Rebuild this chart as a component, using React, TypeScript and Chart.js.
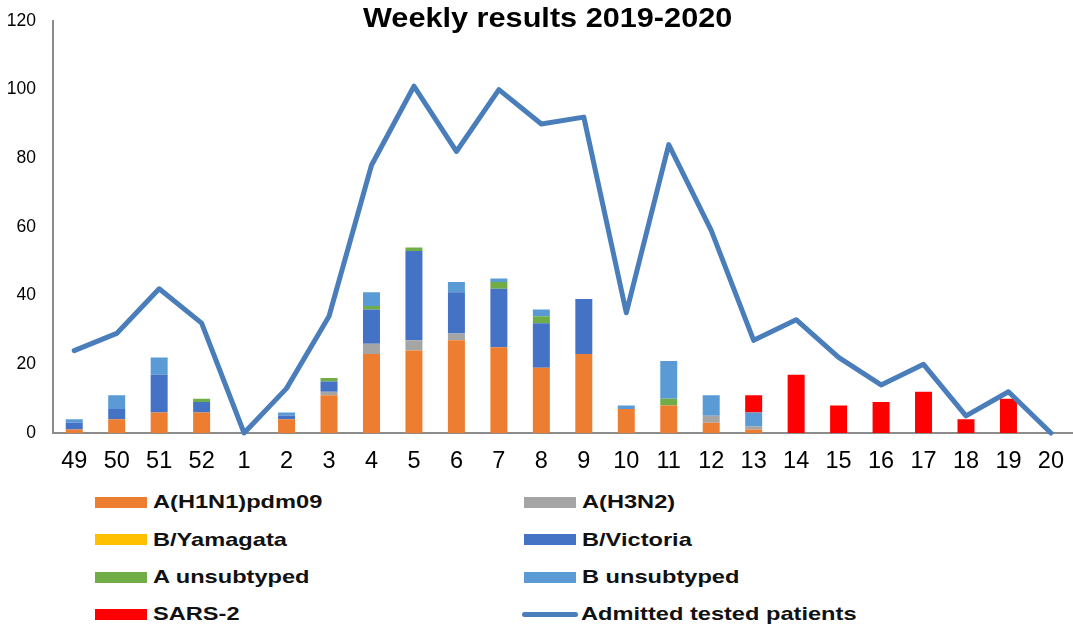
import React, { useEffect, useRef } from "react";
import { Chart, registerables } from "chart.js";

Chart.register(...registerables);

const weeks = ["49", "50", "51", "52", "1", "2", "3", "4", "5", "6", "7", "8", "9", "10", "11", "12", "13", "14", "15", "16", "17", "18", "19", "20"];
const h1n1 = [1, 4, 6, 6, 0, 4, 11, 23, 24, 27, 25, 19, 23, 7, 8, 3, 1, 0, 0, 0, 0, 0, 0, 0];
const h3n2 = [0, 0, 0, 0, 0, 0, 1, 3, 3, 2, 0, 0, 0, 0, 0, 2, 1, 0, 0, 0, 0, 0, 0, 0];
const yamagata = [0, 0, 0, 0, 0, 0, 0, 0, 0, 0, 0, 0, 0, 0, 0, 0, 0, 0, 0, 0, 0, 0, 0, 0];
const victoria = [2, 3, 11, 3, 0, 1, 3, 10, 26, 12, 17, 13, 16, 0, 0, 0, 0, 0, 0, 0, 0, 0, 0, 0];
const aUnsubtyped = [0, 0, 0, 1, 0, 0, 1, 1, 1, 0, 2, 2, 0, 0, 2, 0, 0, 0, 0, 0, 0, 0, 0, 0];
const bUnsubtyped = [1, 4, 5, 0, 0, 1, 0, 4, 0, 3, 1, 2, 0, 1, 11, 6, 4, 0, 0, 0, 0, 0, 0, 0];
const sars2 = [0, 0, 0, 0, 0, 0, 0, 0, 0, 0, 0, 0, 0, 0, 0, 0, 5, 17, 8, 9, 12, 4, 10, 0];
const admitted = [24, 29, 42, 32, 0, 13, 34, 78, 101, 82, 100, 90, 92, 35, 84, 59, 27, 33, 22, 14, 20, 5, 12, 0];

const yTicks = { min: 0, max: 120, step: 20 };
const titleText = "Weekly results 2019-2020";

const COLORS = {
  h1n1: "#ED7D31",
  h3n2: "#A5A5A5",
  yamagata: "#FFC000",
  victoria: "#4472C4",
  aUnsub: "#70AD47",
  bUnsub: "#5B9BD5",
  sars2: "#FF0000",
  line: "#4A7EBB",
};

const FONT = 'Arial, "Liberation Sans", sans-serif';

const legendLeft = [
  { label: "A(H1N1)pdm09", color: COLORS.h1n1, line: false },
  { label: "B/Yamagata", color: COLORS.yamagata, line: false },
  { label: "A unsubtyped", color: COLORS.aUnsub, line: false },
  { label: "SARS-2", color: COLORS.sars2, line: false },
];
const legendRight = [
  { label: "A(H3N2)", color: COLORS.h3n2, line: false },
  { label: "B/Victoria", color: COLORS.victoria, line: false },
  { label: "B unsubtyped", color: COLORS.bUnsub, line: false },
  { label: "Admitted tested patients", color: COLORS.line, line: true },
];

function LegendItem({ item, left, top }: { item: any; left: number; top: number }) {
  return (
    <div style={{ position: "absolute", left, top, height: 20, display: "flex", alignItems: "center" }}>
      {item.line ? (
        <div style={{ width: 56, height: 5, borderRadius: 3, background: item.color, marginLeft: -2, marginRight: 3 }} />
      ) : (
        <div style={{ width: 52, height: 11, background: item.color, marginRight: 6 }} />
      )}
      <span
        style={{
          fontFamily: FONT,
          fontWeight: "bold",
          fontSize: 18.6,
          lineHeight: "20px",
          color: "#111",
          whiteSpace: "nowrap",
          display: "inline-block",
          transform: "scaleX(1.27)",
          transformOrigin: "left center",
        }}
      >
        {item.label}
      </span>
    </div>
  );
}

export default function App() {
  const canvasRef = useRef<HTMLCanvasElement | null>(null);

  useEffect(() => {
    const canvas = canvasRef.current;
    if (!canvas) return;
    const barDs = (label: string, data: number[], color: string) => ({
      type: "bar" as const,
      label,
      data,
      backgroundColor: color,
      borderWidth: 0,
      stack: "flu",
      order: 1,
      categoryPercentage: 1,
      barPercentage: 0.4,
    });
    const chart = new Chart(canvas, {
      type: "bar",
      data: {
        labels: weeks,
        datasets: [
          barDs("A(H1N1)pdm09", h1n1, COLORS.h1n1),
          barDs("A(H3N2)", h3n2, COLORS.h3n2),
          barDs("B/Yamagata", yamagata, COLORS.yamagata),
          barDs("B/Victoria", victoria, COLORS.victoria),
          barDs("A unsubtyped", aUnsubtyped, COLORS.aUnsub),
          barDs("B unsubtyped", bUnsubtyped, COLORS.bUnsub),
          barDs("SARS-2", sars2, COLORS.sars2),
          {
            type: "line" as const,
            label: "Admitted tested patients",
            data: admitted,
            borderColor: COLORS.line,
            backgroundColor: COLORS.line,
            borderWidth: 5,
            pointRadius: 0,
            tension: 0,
            borderJoinStyle: "round",
            borderCapStyle: "round",
            stack: "line",
            order: 0,
            clip: 8,
          } as any,
        ],
      },
      options: {
        responsive: false,
        animation: false,
        devicePixelRatio: 1,
        layout: { padding: { top: 21, right: 0, bottom: 0, left: 0 } },
        plugins: {
          legend: { display: false },
          title: { display: false },
          tooltip: { enabled: false },
        },
        scales: {
          x: {
            stacked: true,
            offset: true,
            grid: { display: false, drawTicks: false },
            border: { display: true, color: "#8C8C8C", width: 2 },
            ticks: {
              color: "#000",
              font: { family: FONT, size: 23.5 },
              padding: 14,
              maxRotation: 0,
              autoSkip: false,
            },
            afterFit: (scale: any) => {
              scale.height = 48;
            },
          },
          y: {
            stacked: true,
            min: yTicks.min,
            max: yTicks.max,
            grid: { display: false, drawTicks: true, tickLength: 17 },
            border: { display: true, color: "#8C8C8C", width: 2 },
            ticks: {
              stepSize: yTicks.step,
              color: "#000",
              font: { family: FONT, size: 17.5 },
              padding: 0,
            },
            afterFit: (scale: any) => {
              scale.width = 53;
            },
          },
        },
      },
    });
    return () => chart.destroy();
  }, []);

  const rowTops = [492, 529.5, 567, 604.3];

  return (
    <div style={{ position: "fixed", left: 0, top: 0, width: 1073, height: 626, overflow: "hidden", background: "#fff" }}>
      <canvas ref={canvasRef} width={1078} height={481} style={{ position: "absolute", left: 0, top: 0, width: 1078, height: 481 }} />
      <div
        style={{
          position: "absolute",
          left: 0,
          top: 4,
          width: 1096,
          textAlign: "center",
          fontFamily: FONT,
          fontWeight: "bold",
          fontSize: 28,
          lineHeight: "28px",
          color: "#000",
          whiteSpace: "nowrap",
        }}
      >
        <span style={{ display: "inline-block", transform: "scaleX(1.095)" }}>{titleText}</span>
      </div>
      {legendLeft.map((it, i) => (
        <LegendItem key={"l" + i} item={it} left={95} top={rowTops[i]} />
      ))}
      {legendRight.map((it, i) => (
        <LegendItem key={"r" + i} item={it} left={524} top={rowTops[i]} />
      ))}
    </div>
  );
}
